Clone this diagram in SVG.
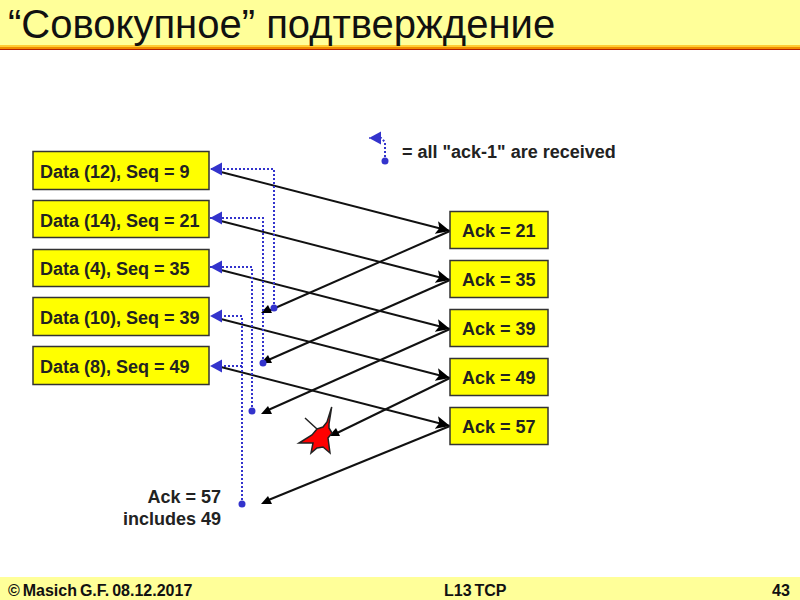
<svg xmlns="http://www.w3.org/2000/svg" width="800" height="600" viewBox="0 0 800 600">
<style>
text{font-family:"Liberation Sans",Arial,sans-serif;fill:#111}
.box rect{fill:#ffff00;stroke:#333;stroke-width:1.5}
.box text{font-size:18px;font-weight:bold;fill:#222}
.a{fill:none;stroke:#111;stroke-width:2}
.d{fill:none;stroke:#3333cc;stroke-width:2;stroke-dasharray:2 2}
.dot{fill:#3333cc}
.lbl{font-size:18px;font-weight:bold;fill:#222}
.foot{font-size:16px;font-weight:bold;word-spacing:-1.500px}
</style>
<defs>
<marker id="ah" markerUnits="userSpaceOnUse" markerWidth="16" markerHeight="14" refX="14" refY="7" orient="auto"><path d="M0 0.500L14 7L0 13.500L3 7Z" fill="#000"/></marker>
<marker id="bh" markerUnits="userSpaceOnUse" markerWidth="14" markerHeight="14" refX="12" refY="7" orient="auto"><path d="M0 0.500L12 7L0 13.500Z" fill="#3333cc"/></marker>
<path id="tri" d="M0 0L7 -8L11 0Z" fill="#000"/>
</defs>
<rect width="800" height="45" fill="#ffff99"/>
<rect y="45" width="800" height="2" fill="#ffcc33"/>
<rect y="47" width="800" height="2" fill="#f08c00"/>
<rect y="49" width="800" height="1" fill="#b32000"/>
<rect y="577" width="800" height="23" fill="#ffff99"/>
<text x="8" y="38" font-size="40">“Совокупное” подтверждение</text>
<text class="foot" x="8" y="596">© Masich G.F. 08.12.2017</text>
<text class="foot" x="444" y="596">L13 TCP</text>
<text class="foot" x="772" y="596">43</text>

<g id="connectors">
<path class="a" marker-end="url(#ah)" d="M217 171L450 231"/>
<path class="a" marker-end="url(#ah)" d="M217 220L450 280"/>
<path class="a" marker-end="url(#ah)" d="M217 269L450 329"/>
<path class="a" marker-end="url(#ah)" d="M217 318L450 378"/>
<path class="a" marker-end="url(#ah)" d="M217 366L450 426"/>
<path class="a" d="M450 231L266 312"/>
<path class="a" d="M450 280L266 361"/>
<path class="a" d="M450 329L266 411"/>
<path class="a" d="M450 378L335 434"/>
<path class="a" d="M450 426L266 501"/>
<use href="#tri" x="261" y="313"/>
<use href="#tri" x="261" y="363"/>
<use href="#tri" x="261" y="414"/>
<use href="#tri" x="329" y="436"/>
<use href="#tri" x="261" y="504"/>
<path class="d" marker-end="url(#bh)" d="M274 308V169H210"/>
<path class="d" marker-end="url(#bh)" d="M263 363V218H210"/>
<path class="d" marker-end="url(#bh)" d="M252 411V267H210"/>
<path class="d" marker-end="url(#bh)" d="M242 504V316H210"/>
<path class="d" marker-end="url(#bh)" d="M242 366H210"/>
<path class="d" marker-end="url(#bh)" d="M385 161V142L381 138H369"/>
<circle class="dot" cx="274" cy="308" r="3.500"/>
<circle class="dot" cx="263" cy="363" r="3.500"/>
<circle class="dot" cx="252" cy="411" r="3.500"/>
<circle class="dot" cx="242" cy="504" r="3.500"/>
<circle class="dot" cx="385" cy="161" r="3.500"/>
</g>

<g id="d1" class="box"><rect x="33" y="151.500" width="176" height="38"/><text x="40" y="178">Data (12), Seq = 9</text></g>
<g id="d2" class="box"><rect x="33" y="200.500" width="176" height="37"/><text x="40" y="227">Data (14), Seq = 21</text></g>
<g id="d3" class="box"><rect x="33" y="249.500" width="176" height="37"/><text x="40" y="275">Data (4), Seq = 35</text></g>
<g id="d4" class="box"><rect x="33" y="297.500" width="176" height="38"/><text x="40" y="324">Data (10), Seq = 39</text></g>
<g id="d5" class="box"><rect x="33" y="346.500" width="176" height="38"/><text x="40" y="373">Data (8), Seq = 49</text></g>
<g id="a1" class="box"><rect x="450" y="211.500" width="98" height="37"/><text x="462" y="237">Ack = 21</text></g>
<g id="a2" class="box"><rect x="450" y="260.500" width="98" height="37"/><text x="462" y="286">Ack = 35</text></g>
<g id="a3" class="box"><rect x="450" y="309.500" width="98" height="37"/><text x="462" y="335">Ack = 39</text></g>
<g id="a4" class="box"><rect x="450" y="358.500" width="98" height="37"/><text x="462" y="384">Ack = 49</text></g>
<g id="a5" class="box"><rect x="450" y="407.500" width="98" height="37"/><text x="462" y="433">Ack = 57</text></g>

<text class="lbl" x="402" y="158">= all "ack-1" are received</text>
<text class="lbl" x="221" y="503" text-anchor="end">Ack = 57</text>
<text class="lbl" x="221" y="525" text-anchor="end">includes 49</text>

<g id="star"><polygon points="305,418 317,429 323,427 327,422 331.700,407 329,424 329,428 332,433 328,438 330,453 323,447 317,448 311,453 313,443 299,443 312,435 317,429" fill="#ff0000" stroke="#222" stroke-width="1.500"/></g>
</svg>
